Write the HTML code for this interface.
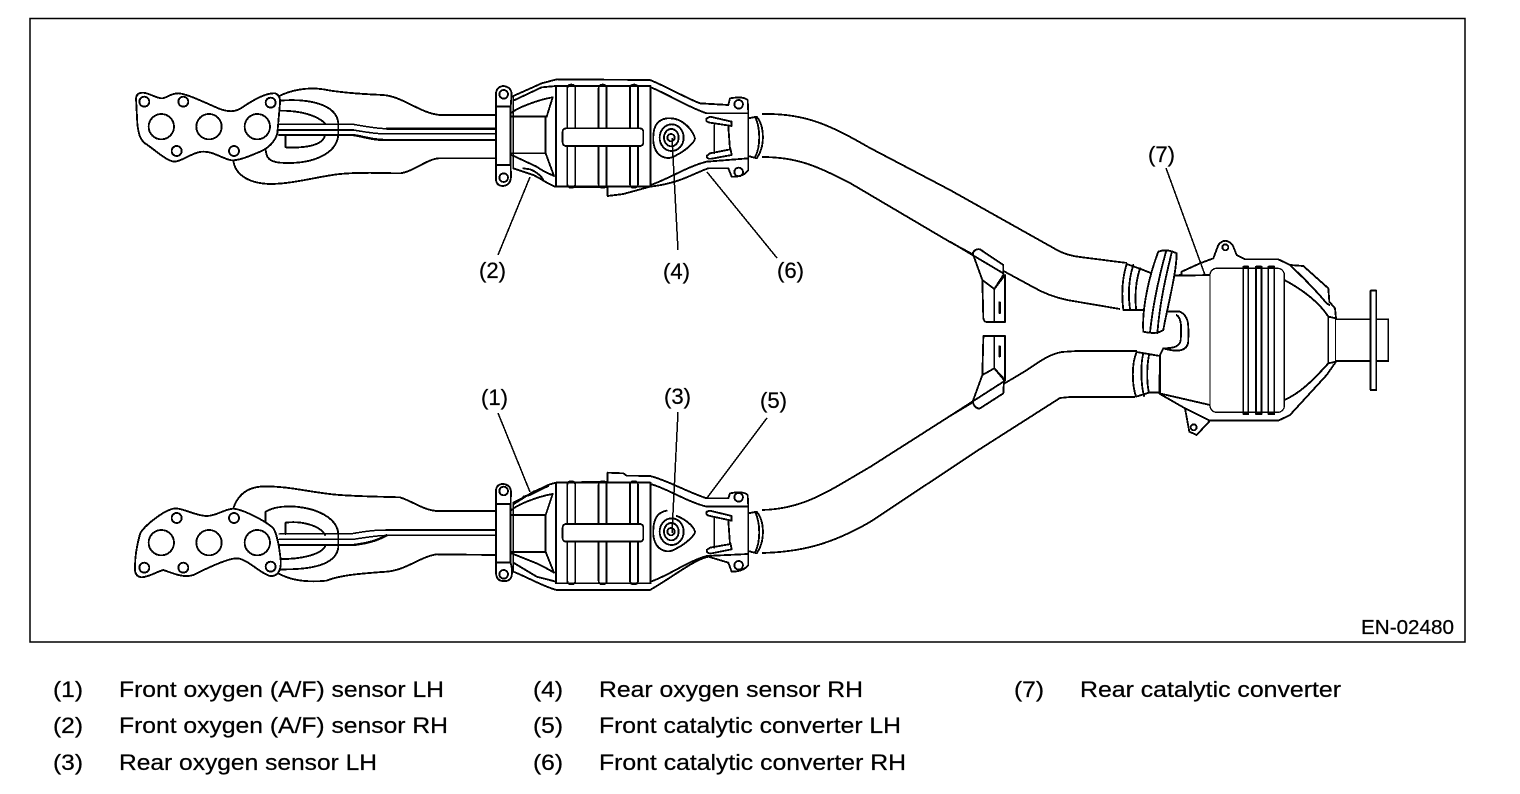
<!DOCTYPE html>
<html><head><meta charset="utf-8"><style>
html,body{margin:0;padding:0;background:#fff}
svg{display:block}
.d{fill:none;stroke:#000;stroke-width:5.5;stroke-linejoin:round;stroke-linecap:round;shape-rendering:crispEdges}
.w{fill:#fff}
.t{stroke-width:7}
.n{stroke-width:4.5}
text{font-family:"Liberation Sans",sans-serif;fill:#000;stroke:#000;stroke-width:.25}
.l{font-size:22.5px}
.c{font-size:22px}
</style></head><body>
<svg width="1520" height="794" viewBox="0 0 1520 794" xmlns="http://www.w3.org/2000/svg">
<rect x="30" y="18.5" width="1435" height="623.5" fill="none" stroke="#000" stroke-width="1.5"/>

<!-- main pipes -->
<g fill="none" stroke="#000" stroke-width="1.8" shape-rendering="crispEdges">
<path d="M762,114 C805,113 830,125 870,148 L950,190 L1057,250 C1064,254 1072,256 1080,257 L1127,263"/>
<path d="M762,157 C800,157 820,168 850,183 L950,242 L1033,287 C1045,294 1058,298 1067,300 L1120,309"/>
<path d="M762,510 C805,509 830,490 870,467 L950,416 L1027,370 C1040,361 1050,354 1062,352 L1077,351 L1137,351"/>
<path d="M762,553 C800,552 830,545 870,522 L980,449 L1060,398 L1070,397 L1135,397"/>
</g>

<!-- top manifold -->
<g transform="translate(120,70) scale(.33333)" class="d">
<path d="M478,78 C510,62 560,50 610,58 C660,68 720,72 790,75 C850,80 900,130 960,135 L1128,135"/>
<path d="M478,92 C560,85 650,100 655,160 L655,195 C650,250 580,285 480,278 C450,275 437,265 437,235"/>
<path d="M480,122 C540,122 590,135 615,160 M615,195 C610,225 560,235 497,232 L497,197"/>
<path d="M340,272 C345,310 380,340 450,342 C520,342 600,318 660,312 C730,305 800,310 840,310 C880,305 920,268 955,265 L1128,265"/>
<path class="n" d="M478,163 L700,163 C740,170 770,176 800,176"/>
<path class="t" d="M800,176 L1128,176 M478,180 L700,180"/>
<path class="n" d="M700,180 C740,187 770,192 800,192 L1128,192"/>
<path class="t" d="M478,195 L700,195 C740,202 760,210 800,210 L1128,210"/>
<path class="w" d="M48,85 Q50,68 68,68 C85,68 110,85 125,85 C140,85 150,70 175,70 C200,70 270,105 300,117 C330,128 350,125 370,110 C400,90 440,68 465,70 Q482,75 480,100 L472,190 C465,215 445,235 420,245 C390,258 350,275 330,270 C300,262 280,245 250,245 C220,245 190,272 165,275 C140,275 100,235 75,220 C60,208 55,190 52,160 Z"/>
<circle cx="73" cy="95" r="15"/><circle cx="190" cy="95" r="15"/><circle cx="452" cy="98" r="15"/><circle cx="170" cy="243" r="15"/><circle cx="342" cy="243" r="15"/>
<circle cx="124" cy="170" r="38"/><circle cx="267" cy="170" r="38"/><circle cx="412" cy="170" r="38"/>
</g>

<!-- top cat -->
<g transform="translate(480,70) scale(.33333)" class="d">
<path class="w" d="M100,78 L185,40 L230,28 L510,30 C560,50 620,85 660,100 L745,105 L750,85 Q790,78 803,90 L805,130 L805,265 L805,300 Q790,322 755,320 L745,295 L685,295 C640,310 600,340 510,350 L430,372 L383,378 L383,352 L225,350 C200,340 190,330 160,315 L100,295 Z"/>
<path class="w" d="M48,110 L48,70 Q50,50 70,48 Q92,50 95,70 L92,110 L92,285 L93,320 Q92,345 70,348 Q50,348 48,330 L48,285 Z"/>
<path d="M48,110 L92,110 M48,285 L92,285"/>
<circle cx="71" cy="73" r="13"/><circle cx="71" cy="323" r="13"/><circle cx="776" cy="103" r="13"/><circle cx="776" cy="306" r="13"/>
<path d="M95,128 C110,115 170,90 218,82 L200,140 L92,140 M92,250 L197,250 L222,318 C210,312 190,305 170,290 L95,255 M197,140 L197,250"/>
<path d="M100,92 L185,52 L228,48 M130,295 L150,298 C170,305 185,320 190,330"/>
<rect x="228" y="48" width="284" height="302"/>
<rect x="262" y="44" width="24" height="309" rx="10"/><rect x="356" y="44" width="24" height="309" rx="10"/><rect x="450" y="44" width="24" height="309" rx="10"/>
<rect class="w" x="248" y="175" width="242" height="53" rx="10"/>
<path d="M512,52 C560,70 620,110 680,130 L805,130 M512,345 C570,325 620,290 680,275 L805,265"/>
<path d="M560,145 C530,150 518,170 520,215 C525,260 560,275 590,255 C620,240 645,215 645,205 C640,185 610,140 560,145 Z"/>
<ellipse cx="575" cy="203" rx="36" ry="40"/><ellipse cx="574" cy="203" rx="22" ry="26"/><circle cx="573" cy="203" r="11"/>
<path class="w" d="M680,145 Q675,155 690,158 L755,168 L755,155 L690,140 Z M680,258 Q680,268 695,266 L755,255 L752,238 L690,250 Z"/>
<path d="M703,165 L703,250 M745,170 L750,238 M805,145 L830,140 C855,170 855,230 830,265 L805,258 M825,140 C842,175 842,230 825,262"/>
</g>

<!-- bottom manifold -->
<g transform="translate(120,460) scale(.33333)" class="d">
<path d="M340,145 C350,115 370,85 420,80 C500,75 580,100 660,105 C730,110 790,110 840,112 C880,125 910,150 950,153 L1128,153"/>
<path d="M437,185 L437,155 C470,135 530,135 580,150 C625,165 655,190 655,225 L655,262 C650,305 600,330 480,328"/>
<path d="M497,222 L497,188 C540,182 600,195 615,225 M615,260 C600,285 540,298 480,297"/>
<path d="M475,340 C510,360 560,368 620,362 C660,345 730,340 800,335 C860,330 900,290 950,283 L1128,285"/>
<path class="t" d="M800,210 L1128,210 M478,255 L700,255 C740,250 770,243 800,226"/>
<path class="n" d="M478,222 L690,222 C730,215 760,210 800,210 M478,238 L700,238 C740,232 770,226 810,226 L1128,226"/>
<path class="w" d="M45,320 C45,280 55,240 60,222 C70,200 130,150 165,145 C190,145 230,168 260,168 C290,168 310,148 340,146 C370,148 440,185 460,205 C470,220 478,260 482,300 C485,335 470,350 450,348 C420,340 380,295 350,295 C320,295 250,330 220,345 C190,355 160,340 130,330 C110,335 90,350 65,352 C50,350 43,340 45,320 Z"/>
<circle cx="73" cy="323" r="15"/><circle cx="190" cy="323" r="15"/><circle cx="452" cy="320" r="15"/><circle cx="170" cy="174" r="15"/><circle cx="342" cy="174" r="15"/>
<circle cx="124" cy="248" r="38"/><circle cx="267" cy="248" r="38"/><circle cx="412" cy="248" r="38"/>
</g>

<!-- bottom cat -->
<g transform="translate(480,380) scale(.33333)" class="d">
<path class="w" d="M100,373 L160,335 C190,325 200,312 230,308 L383,305 L383,278 L430,280 L440,287 L510,288 C560,300 620,335 680,355 L745,355 L750,340 Q790,332 803,345 L805,380 L805,520 L805,555 Q790,575 755,575 L745,548 L685,530 C640,540 580,590 510,630 L230,630 C190,620 150,595 100,575 Z"/>
<path class="w" d="M48,370 L48,330 Q50,312 70,312 Q92,315 93,335 L92,370 L92,548 C95,560 100,580 92,595 Q85,605 70,603 Q50,603 48,580 L48,548 Z"/>
<path d="M48,372 L92,372 M48,548 L92,548"/>
<circle cx="71" cy="333" r="13"/><circle cx="71" cy="583" r="13"/><circle cx="776" cy="352" r="13"/><circle cx="776" cy="556" r="13"/>
<path d="M95,390 C110,375 170,350 218,342 L197,405 L92,405 M92,516 L197,516 L222,578 C210,570 190,560 170,550 L95,520 M197,405 L197,516"/>
<path d="M130,350 L150,345 C170,335 190,325 205,318 M100,368 L185,325 M100,548 L170,590 L228,605"/>
<rect x="228" y="308" width="284" height="302"/>
<rect x="262" y="304" width="24" height="309" rx="10"/><rect x="356" y="304" width="24" height="309" rx="10"/><rect x="450" y="304" width="24" height="309" rx="10"/>
<rect class="w" x="248" y="432" width="242" height="53" rx="10"/>
<path d="M512,312 C560,325 620,365 680,380 L805,380 M512,605 C570,585 620,545 680,528 L805,522"/>
<path d="M560,392 C530,397 518,420 520,465 C525,510 560,525 590,505 C620,490 645,465 645,455 C640,435 610,415 590,408"/>
<ellipse cx="575" cy="455" rx="36" ry="40"/><ellipse cx="574" cy="455" rx="22" ry="26"/><circle cx="573" cy="455" r="11"/>
<path class="w" d="M680,395 Q675,405 690,408 L755,422 L755,408 L690,392 Z M680,510 Q680,522 695,520 L755,508 L752,492 L690,503 Z"/>
<path d="M703,415 L703,503 M745,422 L750,492 M805,400 L830,395 C855,425 855,485 830,520 L805,513 M825,395 C842,430 842,485 825,518"/>
</g>

<!-- rear cat -->
<g transform="translate(950,140) scale(.33333)" class="d">
<path class="w" d="M68,340 Q75,325 90,328 L160,375 L160,405 L133,447 L97,420 Z"/>
<path class="w" d="M97,420 L100,535 Q103,546 110,546 L165,546 L165,405 L133,447 Z"/>
<path d="M133,447 L133,546"/>
<path d="M149,488 L149,518" stroke-width="8"/>
<path class="w" d="M100,588 L165,588 L165,720 L133,685 L97,705 L100,595 Q100,588 105,588 Z"/>
<path class="w" d="M97,705 L133,685 L162,720 L160,760 L90,805 Q75,808 68,785 Z"/>
<path d="M133,588 L133,685"/>
<path d="M149,620 L149,648" stroke-width="8"/>
<path d="M0,305 L160,400 M0,828 L165,722"/>
<path class="w" d="M630,645 L640,625 C690,640 715,630 715,600 C715,560 720,530 690,515 L640,515 L650,408 L695,405 L695,395 L750,370 L790,355 L805,315 Q825,290 848,315 L860,345 L885,358 L985,358 L1020,375 L1060,378 L1135,445 L1138,485 L1155,505 L1158,535 L1158,665 L1130,705 L1020,825 L985,842 L780,842 L740,885 L718,875 L705,805 L630,762 Z"/>
<path d="M650,408 L780,405 M680,525 C695,535 695,565 692,600 C690,620 670,625 640,625 M630,650 L628,760 L780,795 M1020,375 C1040,395 1080,430 1130,490 L1138,495 M705,805 L780,842"/>
<rect x="780" y="385" width="223" height="432" rx="20" class="w" stroke-width="4"/>
<path d="M1003,420 C1060,450 1110,490 1135,530 L1135,670 C1090,720 1050,760 1003,780 M1135,530 L1158,535 M1135,670 L1158,665"/>
<rect x="880" y="380" width="15" height="442"/><rect x="918" y="380" width="17" height="442"/><rect x="955" y="380" width="18" height="442"/>
<circle cx="826" cy="322" r="9"/><circle cx="731" cy="862" r="9"/>
<path class="w" d="M1158,538 L1315,538 L1315,663 L1158,663"/>
<rect class="w" x="1262" y="452" width="17" height="298"/>
<path d="M530,372 C515,420 515,470 520,510 M550,375 C535,420 535,470 540,508 M570,385 C555,430 555,470 558,505 M530,372 L575,388 L600,398 M520,510 L580,510"/>
<path class="w" d="M625,335 Q650,325 680,340 C680,400 650,510 640,570 Q620,585 580,575 C575,500 600,400 625,335 Z"/>
<path d="M648,335 C630,400 610,480 600,578 M665,338 C650,400 630,480 622,580"/>
<path d="M560,636 C545,670 545,730 558,770 M580,640 C572,670 572,730 582,768 M597,645 C590,680 590,730 597,758 M560,636 L630,648 M558,770 L600,757 L628,758"/>
</g>

<!-- leaders -->
<g fill="none" stroke="#000" stroke-width="1.5" shape-rendering="crispEdges">
<path d="M498,255 L530,177 M678,250 L672,138 M777,258 L707,172 M498,413 L530,492 M678,412 L672,533 M767,418 L707,498 M1166,168 L1205,275"/>
</g>

<text class="c" x="479" y="278" textLength="27" lengthAdjust="spacingAndGlyphs">(2)</text>
<text class="c" x="663" y="279" textLength="27" lengthAdjust="spacingAndGlyphs">(4)</text>
<text class="c" x="777" y="278" textLength="27" lengthAdjust="spacingAndGlyphs">(6)</text>
<text class="c" x="481" y="405" textLength="27" lengthAdjust="spacingAndGlyphs">(1)</text>
<text class="c" x="664" y="404" textLength="27" lengthAdjust="spacingAndGlyphs">(3)</text>
<text class="c" x="760" y="408" textLength="27" lengthAdjust="spacingAndGlyphs">(5)</text>
<text class="c" x="1148" y="162" textLength="27" lengthAdjust="spacingAndGlyphs">(7)</text>
<text x="1361" y="634" font-size="20" textLength="93" lengthAdjust="spacingAndGlyphs">EN-02480</text>

<text class="l" x="53" y="697" textLength="30" lengthAdjust="spacingAndGlyphs">(1)</text><text class="l" x="119" y="697" textLength="325" lengthAdjust="spacingAndGlyphs">Front oxygen (A/F) sensor LH</text>
<text class="l" x="53" y="733" textLength="30" lengthAdjust="spacingAndGlyphs">(2)</text><text class="l" x="119" y="733" textLength="329" lengthAdjust="spacingAndGlyphs">Front oxygen (A/F) sensor RH</text>
<text class="l" x="53" y="770" textLength="30" lengthAdjust="spacingAndGlyphs">(3)</text><text class="l" x="119" y="770" textLength="258" lengthAdjust="spacingAndGlyphs">Rear oxygen sensor LH</text>
<text class="l" x="533" y="697" textLength="30" lengthAdjust="spacingAndGlyphs">(4)</text><text class="l" x="599" y="697" textLength="264" lengthAdjust="spacingAndGlyphs">Rear oxygen sensor RH</text>
<text class="l" x="533" y="733" textLength="30" lengthAdjust="spacingAndGlyphs">(5)</text><text class="l" x="599" y="733" textLength="302" lengthAdjust="spacingAndGlyphs">Front catalytic converter LH</text>
<text class="l" x="533" y="770" textLength="30" lengthAdjust="spacingAndGlyphs">(6)</text><text class="l" x="599" y="770" textLength="307" lengthAdjust="spacingAndGlyphs">Front catalytic converter RH</text>
<text class="l" x="1014" y="697" textLength="30" lengthAdjust="spacingAndGlyphs">(7)</text><text class="l" x="1080" y="697" textLength="261" lengthAdjust="spacingAndGlyphs">Rear catalytic converter</text>
</svg>
</body></html>
